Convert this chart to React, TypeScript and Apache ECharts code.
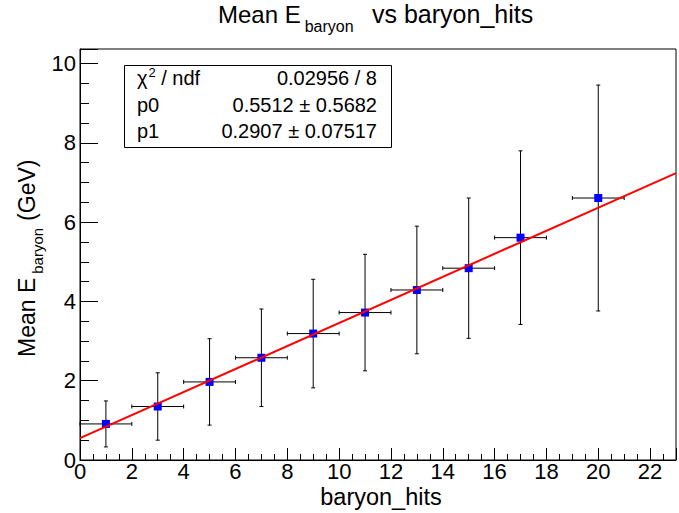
import React, { useEffect, useRef } from "react";
import * as echarts from "echarts";

// ---- data ----
const xValues = [1, 3, 5, 7, 9, 11, 13, 15, 17, 20];
const yValues = [0.91, 1.35, 1.97, 2.58, 3.19, 3.72, 4.29, 4.84, 5.61, 6.61];
const xErrors = [1, 1, 1, 1, 1, 1, 1, 1, 1, 1];
const yErrors = [0.58, 0.85, 1.09, 1.23, 1.37, 1.47, 1.61, 1.77, 2.19, 2.85];
const fitX = [0, 23];
const fitY = [0.5512, 7.2373];
const statsNames = ["p0", "p1"];
const statsValues = ["0.02956 / 8", "0.5512 \u00b1 0.5682", "0.2907 \u00b1 0.07517"];
const xRange = [0, 23];
const yRange = [0, 10.37];

const FONT = '"Liberation Sans", Arial, Helvetica, sans-serif';

// Arial / Liberation Sans advance widths (em) of the fixed title strings
const EM_MEAN_E = 3.446;
const EM_BARYON = 3.057;
const EM_CHI = 0.55;
const EM_TWO = 0.556;

function txt(text: string, x: number, baseline: number, size: number, align = "left", lineHeight?: number) {
  return {
    type: "text",
    x,
    y: baseline - 0.3465 * size,
    silent: true,
    style: {
      text,
      fontSize: size,
      fontFamily: FONT,
      fill: "#000",
      align,
      textAlign: align,
      verticalAlign: "middle",
      textVerticalAlign: "middle",
      lineHeight: lineHeight || size,
    },
  };
}

export default function App() {
  const ref = useRef<HTMLDivElement>(null);
  useEffect(() => {
    if (!ref.current) return;
    const chart = echarts.init(ref.current, undefined, { renderer: "svg" });

    // title
    const tB = 23;
    const titleEls = [
      txt("Mean E", 218, tB, 24),
      txt("baryon", 218 + EM_MEAN_E * 24 + 4, tB + 9, 16),
      txt("vs baryon_hits", 372, tB, 25),
    ];

    // y axis title (rotated, reading upwards)
    const yS = 23, ySub = 15;
    const yw1 = EM_MEAN_E * yS;
    const ywsub = EM_BARYON * ySub;
    const yTitle = {
      type: "group",
      x: 35,
      y: 357,
      rotation: Math.PI / 2,
      children: [
        txt("Mean E", 0, 0, yS),
        txt("baryon", yw1 + 4, 8, ySub),
        txt("(GeV)", yw1 + 4 + ywsub + 7, 0, yS),
      ],
    };

    // x axis title
    const xTitle = txt("baryon_hits", 381, 505, 23.5, "center", 18);

    // stats box
    const sz = 20;
    const rows = [78, 104.5, 131].map((c) => c + 0.3465 * sz);
    const chiW = EM_CHI * sz;
    const supW = EM_TWO * 13;
    const statsEls: any[] = [
      {
        type: "rect",
        shape: { x: 124.5, y: 65.5, width: 267, height: 82 },
        style: { fill: "#fff", stroke: "#000", lineWidth: 1 },
        silent: true,
      },
      txt("\u03c7", 137, rows[0], sz),
      txt("2", 137 + chiW + 0.5, rows[0] - 8, 13),
      txt("/ ndf", 137 + chiW + supW + 6, rows[0], sz),
      txt(statsNames[0], 137, rows[1], sz),
      txt(statsNames[1], 137, rows[2], sz),
      txt(statsValues[0], 377, rows[0], sz, "right"),
      txt(statsValues[1], 377, rows[1], sz, "right"),
      txt(statsValues[2], 377, rows[2], sz, "right"),
    ];

    const axisCommon = {
      axisLine: { show: true, onZero: false, lineStyle: { color: "#000", width: 1 } },
      splitLine: { show: false },
    };

    chart.setOption({
      animation: false,
      backgroundColor: "#fff",
      grid: {
        left: 80,
        top: 49,
        width: 603,
        height: 411,
        show: true,
        borderColor: "#000",
        borderWidth: 1,
        backgroundColor: "transparent",
      },
      xAxis: {
        type: "value",
        min: xRange[0],
        max: xRange[1],
        interval: 2,
        ...axisCommon,
        axisTick: { show: true, inside: true, length: 12, lineStyle: { color: "#000", width: 1 } },
        minorTick: { show: true, splitNumber: 4, length: 6, lineStyle: { color: "#000", width: 1 } },
        axisLabel: {
          fontSize: 22,
          fontFamily: FONT,
          color: "#000",
          margin: 1,
          lineHeight: 20,
          formatter: (v: number) => (v % 2 === 0 && v <= 22 ? String(v) : ""),
        },
      },
      yAxis: {
        type: "value",
        min: yRange[0],
        max: yRange[1],
        interval: 2,
        ...axisCommon,
        axisTick: { show: true, inside: true, length: 18, lineStyle: { color: "#000", width: 1 } },
        minorTick: { show: true, splitNumber: 4, length: 9, lineStyle: { color: "#000", width: 1 } },
        axisLabel: {
          fontSize: 22,
          fontFamily: FONT,
          color: "#000",
          margin: 4,
          formatter: (v: number) => (v % 2 === 0 ? String(v) : ""),
        },
      },
      series: [
        {
          type: "custom",
          z: 2,
          data: xValues.map((x, i) => [x, yValues[i], xErrors[i], yErrors[i]]),
          encode: { x: 0, y: 1 },
          renderItem: (params: any, api: any) => {
            const x = api.value(0), y = api.value(1), ex = api.value(2), ey = api.value(3);
            const c = api.coord([x, y]);
            const l = api.coord([x - ex, y]);
            const r = api.coord([x + ex, y]);
            const t = api.coord([x, y + ey]);
            const b = api.coord([x, y - ey]);
            const cap = 2;
            const st = { stroke: "#000", lineWidth: 1 };
            return {
              type: "group",
              children: [
                { type: "line", shape: { x1: l[0], y1: c[1], x2: r[0], y2: c[1] }, style: st },
                { type: "line", shape: { x1: c[0], y1: t[1], x2: c[0], y2: b[1] }, style: st },
                { type: "line", shape: { x1: l[0], y1: c[1] - cap, x2: l[0], y2: c[1] + cap }, style: st },
                { type: "line", shape: { x1: r[0], y1: c[1] - cap, x2: r[0], y2: c[1] + cap }, style: st },
                { type: "line", shape: { x1: c[0] - cap, y1: t[1], x2: c[0] + cap, y2: t[1] }, style: st },
                { type: "line", shape: { x1: c[0] - cap, y1: b[1], x2: c[0] + cap, y2: b[1] }, style: st },
              ],
            };
          },
        },
        {
          type: "scatter",
          z: 3,
          symbol: "rect",
          symbolSize: 8,
          itemStyle: { color: "#0000ff", opacity: 1 },
          data: xValues.map((x, i) => [x, yValues[i]]),
        },
        {
          type: "line",
          z: 4,
          showSymbol: false,
          symbol: "none",
          lineStyle: { color: "#ff0000", width: 2 },
          data: fitX.map((x, i) => [x, fitY[i]]),
        },
      ],
      graphic: [...titleEls, yTitle, xTitle, ...statsEls],
    });
    return () => chart.dispose();
  }, []);

  return (
    <div
      ref={ref}
      style={{ position: "fixed", left: 0, top: 0, width: 679, height: 513, overflow: "hidden", background: "#fff" }}
    />
  );
}
